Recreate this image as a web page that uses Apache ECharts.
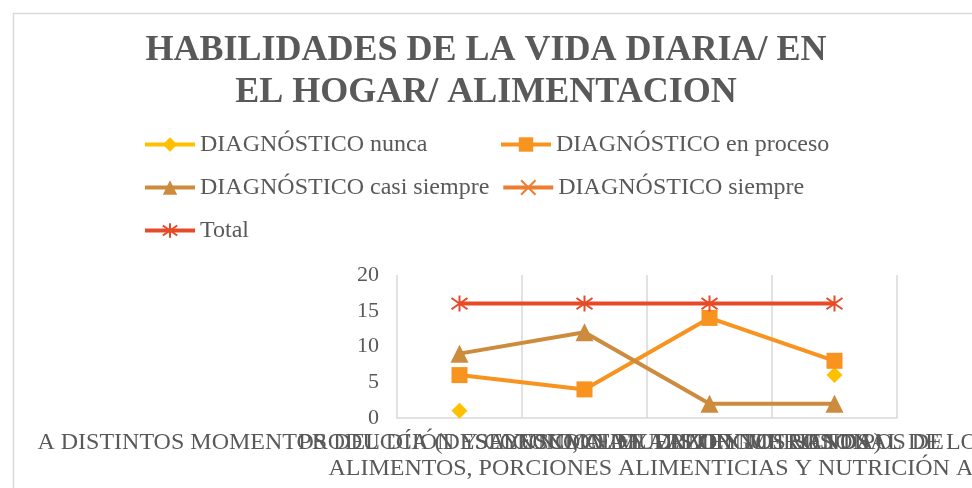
<!DOCTYPE html>
<html>
<head>
<meta charset="utf-8">
<script src="https://cdn.jsdelivr.net/npm/echarts@6/dist/echarts.min.js"></script>
<style>
  html, body { margin: 0; padding: 0; background: #fff; }
  #chart { width: 972px; height: 488px; }
</style>
</head>
<body>
<div id="chart"></div>
<script>
// categorias (etiquetas del eje x, se solapan como en el original)
const categories = [
  'A DISTINTOS MOMENTOS DEL DÍA (DESAYUNO, ALMUERZO Y MERIENDA)',
  'PRODUCCIÓN Y CONSUMO DE ALIMENTOS SANOS',
  'SELECCIONA Y DISTINGUE LOS TIPOS DE\nALIMENTOS, PORCIONES ALIMENTICIAS Y NUTRICIÓN ADECUADA',
  'CONOCE EL VALOR NUTRICIONAL DE LO QUE CONSUME'
]
const nunca = [1, null, null, 6]
const enProceso = [6, 4, 14, 8]
const casiSiempre = [9, 12, 2, 2]
const siempre = [null, null, null, null]
const total = [16, 16, 16, 16]
const yTicks = [0, 20, 5]

const gray = '#595959'
const serif = 'Liberation Serif'
const crossPath = 'path://M0,0L10,10M10,0L0,10'
const starPath = 'path://M5,0L5,10M0,1.5L10,8.5M10,1.5L0,8.5'

const chart = echarts.init(document.getElementById('chart'))

const option = {
  animation: false,
  title: {
    text: 'HABILIDADES DE LA VIDA DIARIA/ EN\nEL HOGAR/ ALIMENTACION',
    left: 'center',
    top: 25,
    textStyle: {
      fontFamily: serif,
      fontWeight: 'bold',
      fontSize: 36,
      lineHeight: 42,
      color: gray
    }
  },
  graphic: [
    {
      type: 'rect',
      left: 11,
      top: 11,
      shape: { width: 1000, height: 520 },
      style: { fill: 'none', stroke: '#d9d9d9', lineWidth: 1.5 },
      silent: true
    }
  ],
  legend: {
    left: 138,
    top: 124,
    width: 720,
    itemWidth: 50,
    itemHeight: 18,
    itemGap: 12,
    lineStyle: { width: 4 },
    textStyle: {
      fontFamily: serif,
      fontSize: 24,
      color: gray,
      width: 287,
      lineHeight: 31
    }
  },
  grid: {
    left: 397,
    right: 75,
    top: 275,
    bottom: 70,
    outerBoundsMode: 'none',
    containLabel: false
  },
  xAxis: {
    type: 'category',
    data: categories,
    boundaryGap: true,
    axisLine: { lineStyle: { color: '#d9d9d9', width: 1.5 } },
    axisTick: { show: false },
    splitLine: { show: true, interval: 0, lineStyle: { color: '#d9d9d9', width: 1.5 } },
    axisLabel: {
      interval: 0,
      margin: 12,
      hideOverlap: false,
      fontFamily: serif,
      fontSize: 24,
      lineHeight: 26,
      color: gray
    }
  },
  yAxis: {
    type: 'value',
    min: yTicks[0],
    max: yTicks[1],
    interval: yTicks[2],
    axisLine: { show: false },
    axisTick: { show: false },
    splitLine: { show: false },
    axisLabel: {
      margin: 18,
      fontFamily: serif,
      fontSize: 22,
      color: gray
    }
  },
  series: [
    {
      name: 'DIAGNÓSTICO nunca',
      type: 'line',
      data: nunca,
      symbol: 'diamond',
      symbolSize: 16,
      color: '#FFC000',
      lineStyle: { width: 4 }
    },
    {
      name: 'DIAGNÓSTICO en proceso',
      type: 'line',
      data: enProceso,
      symbol: 'rect',
      symbolSize: 16,
      color: '#F7931E',
      lineStyle: { width: 4 }
    },
    {
      name: 'DIAGNÓSTICO casi siempre',
      type: 'line',
      data: casiSiempre,
      symbol: 'triangle',
      symbolSize: 18,
      color: '#CC8B3D',
      lineStyle: { width: 4 }
    },
    {
      name: 'DIAGNÓSTICO siempre',
      type: 'line',
      data: siempre,
      symbol: crossPath,
      symbolSize: 12,
      color: '#ED7D31',
      itemStyle: { color: 'none', borderColor: '#ED7D31', borderWidth: 2 },
      lineStyle: { width: 4, color: '#ED7D31' }
    },
    {
      name: 'Total',
      type: 'line',
      data: total,
      symbol: starPath,
      symbolSize: 16,
      color: '#E84A27',
      itemStyle: { color: 'none', borderColor: '#E84A27', borderWidth: 2 },
      lineStyle: { width: 4, color: '#E84A27' }
    }
  ]
}

chart.setOption(option)
</script>
</body>
</html>
